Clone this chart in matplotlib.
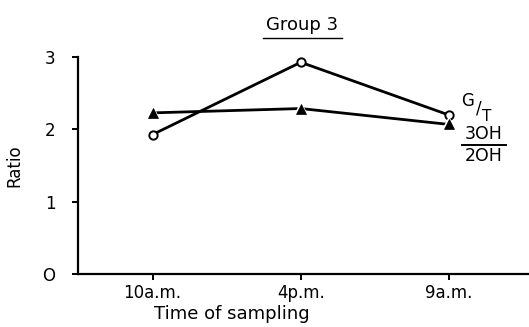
import matplotlib
matplotlib.use("Agg")
import matplotlib.pyplot as plt
from matplotlib.lines import Line2D

times = ["10a.m.", "4p.m.", "9a.m."]
ratio_gt = [1.93, 2.93, 2.20]
ratio_oh = [2.23, 2.29, 2.07]
y_ticks = [0, 1, 2, 3]
y_tick_labels = ["O", "1", "2", "3"]

plt.rcParams["font.family"] = ["DejaVu Sans"]

fig = plt.figure(figsize=(5.29, 3.27), dpi=100)
ax = fig.add_axes([0.147, 0.162, 0.853, 0.663])

x = list(range(len(times)))

# G/T ratio: open circles joined by a solid line
ax.plot(x, ratio_gt, color="black", lw=2.0, marker="o", ms=6,
        mfc="white", mec="black", mew=1.4, zorder=3, clip_on=False)

# 3OH/2OH ratio: line first, then triangles with a white halo
ax.plot(x, ratio_oh, color="black", lw=2.0, zorder=2, clip_on=False)
ax.plot(x, ratio_oh, ls="none", marker="^", ms=12, mfc="white",
        mec="white", mew=0, zorder=4, clip_on=False)
ax.plot(x, ratio_oh, ls="none", marker="^", ms=7, mfc="black",
        mec="black", mew=0.5, zorder=5, clip_on=False)

ax.set_xlim(-0.505, 2.54)
ax.set_ylim(0, 3)
ax.set_xticks(x)
ax.set_xticklabels(times, fontsize=12)
ax.set_yticks(y_ticks)
ax.set_yticklabels(y_tick_labels, fontsize=12)

for side in ("top", "right"):
    ax.spines[side].set_visible(False)
for side in ("left", "bottom"):
    ax.spines[side].set_linewidth(1.6)

ax.tick_params(axis="y", direction="out", length=4, width=1.4, pad=12)
ax.tick_params(axis="x", direction="out", length=4, width=1.4, pad=3)

ax.set_ylabel("Ratio", fontsize=12, labelpad=14)
ax.set_xlabel("Time of sampling", fontsize=13)
ax.xaxis.set_label_coords(0.342, -0.145)

# title with underline
fig.text(0.571, 0.925, "Group 3", ha="center", va="center", fontsize=13)
fig.add_artist(Line2D([0.497, 0.647], [0.885, 0.885], color="black", lw=1.0,
                      transform=fig.transFigure))

# series labels at the right end of the lines
fig.text(0.872, 0.690, "G", ha="left", va="center", fontsize=12)
fig.text(0.899, 0.668, "/", ha="left", va="center", fontsize=12)
fig.text(0.912, 0.645, "T", ha="left", va="center", fontsize=11)
fig.text(0.914, 0.590, "3OH", ha="center", va="center", fontsize=12.5)
fig.add_artist(Line2D([0.873, 0.957], [0.557, 0.557], color="black", lw=1.4,
                      transform=fig.transFigure))
fig.text(0.914, 0.522, "2OH", ha="center", va="center", fontsize=12.5)

fig.savefig("out.png", dpi=100)
